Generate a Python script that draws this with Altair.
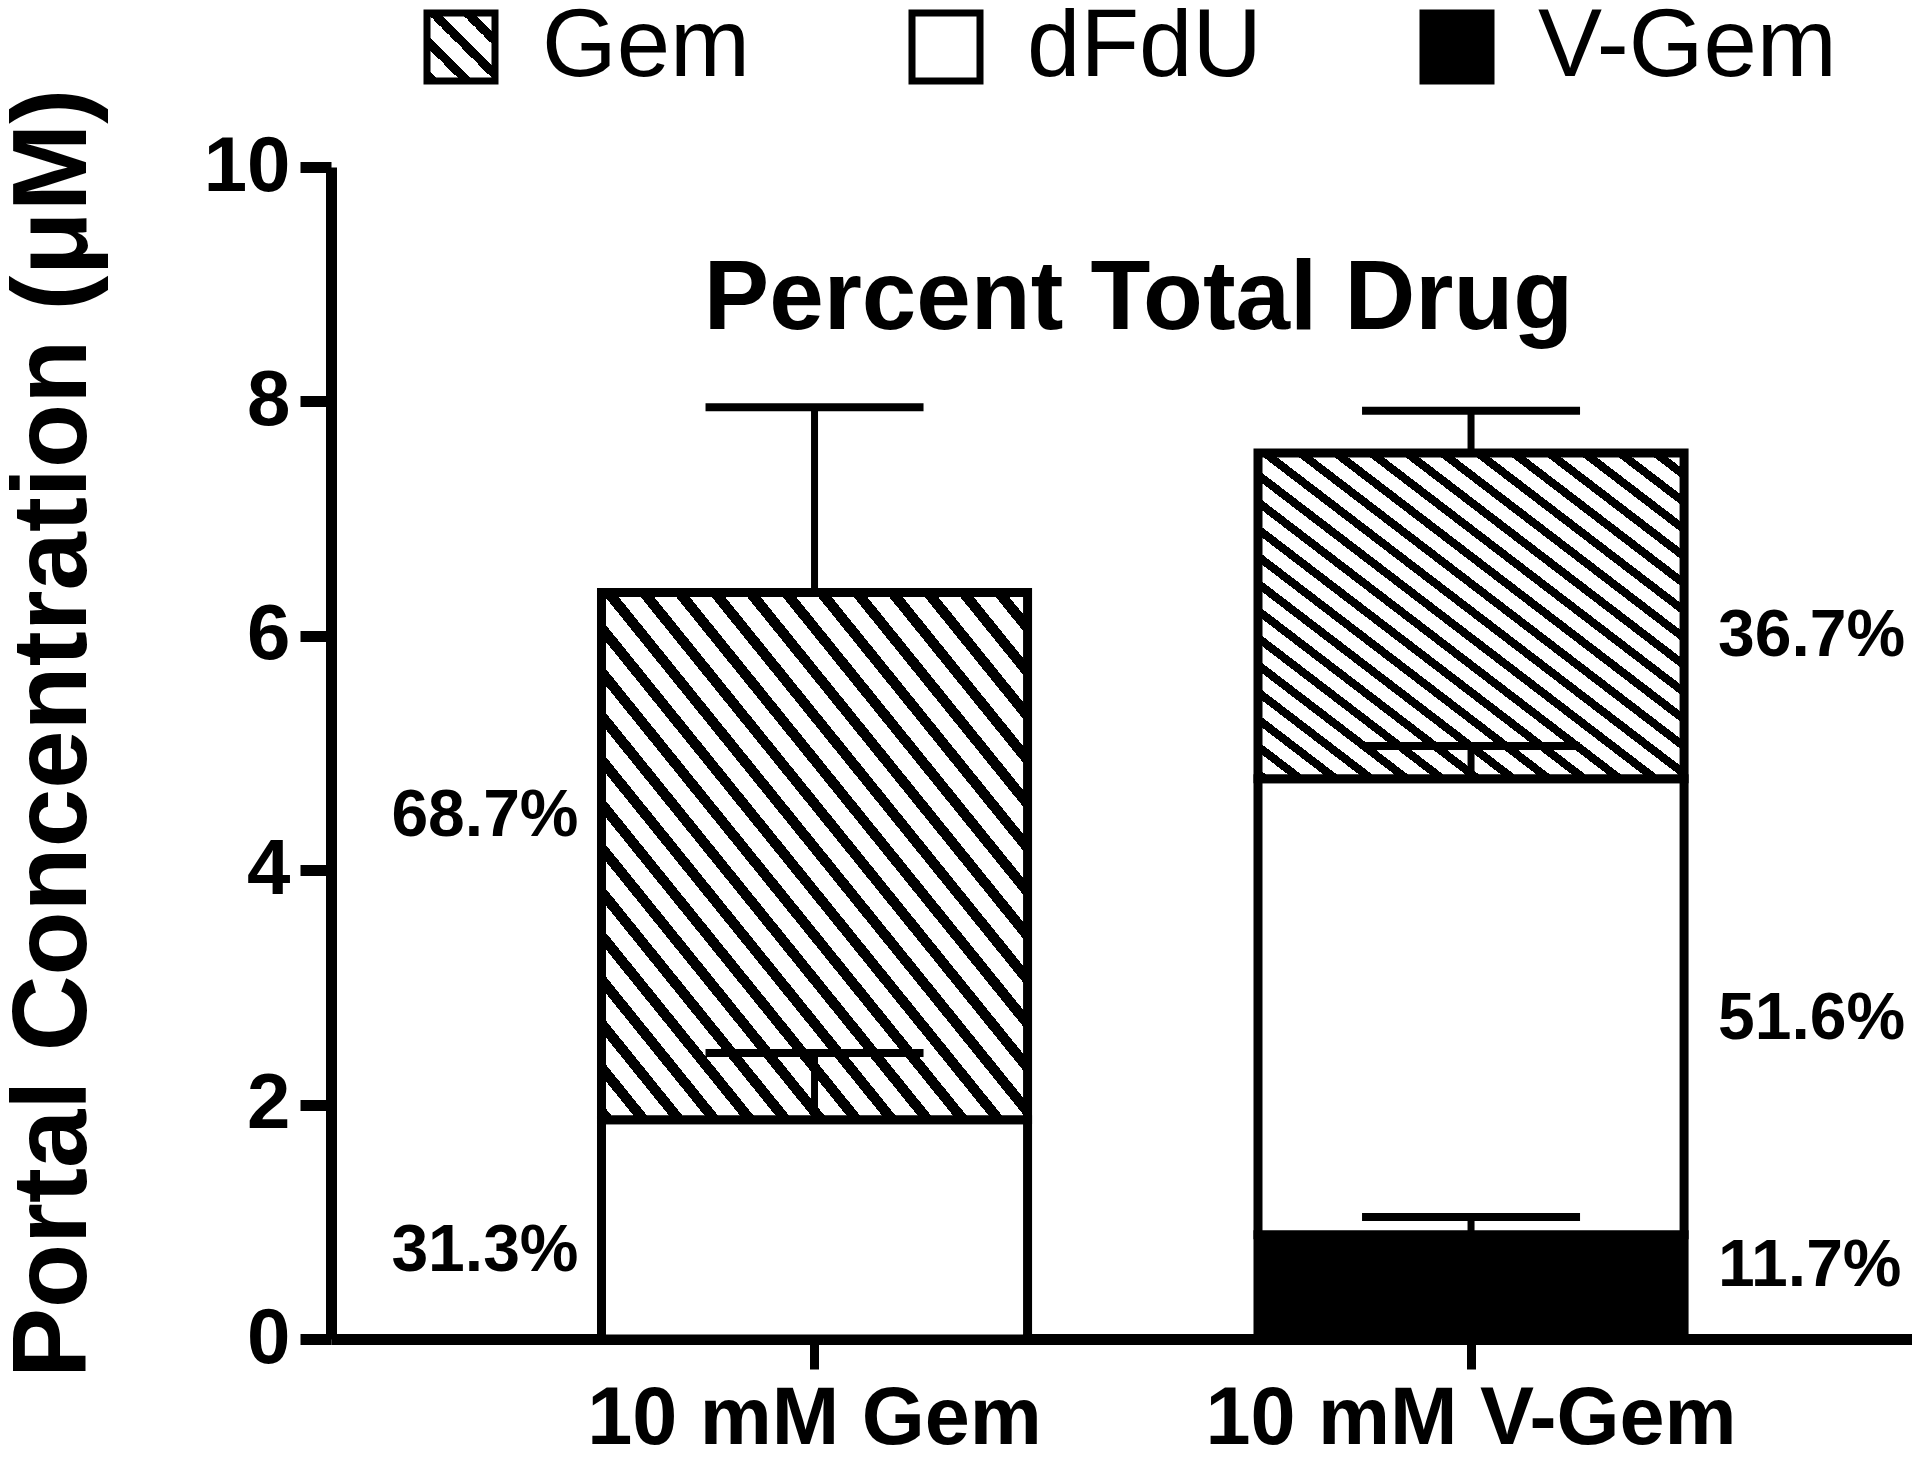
import altair as alt
import pandas as pd

# ---------------- data ----------------
groups = ["10 mM Gem", "10 mM V-Gem"]
segment_order = ["Gem", "dFdU", "V-Gem"]          # legend order

# stacked segments, listed bottom -> top within each group
bar_group = ["10 mM Gem", "10 mM Gem", "10 mM V-Gem", "10 mM V-Gem", "10 mM V-Gem"]
bar_segment = ["dFdU", "Gem", "V-Gem", "dFdU", "Gem"]
bar_value = [1.87, 4.50, 0.89, 3.89, 2.78]     # mean portal concentration (uM)
bar_sd = [0.57, 1.58, 0.15, 0.28, 0.36]        # error (upper bar only)

# percent-of-total-drug labels
pct_group = ["10 mM Gem", "10 mM Gem", "10 mM V-Gem", "10 mM V-Gem", "10 mM V-Gem"]
pct_text = ["68.7%", "31.3%", "36.7%", "51.6%", "11.7%"]
pct_y = [4.46, 0.75, 6.0, 2.73, 0.62]

y_ticks = [0, 2, 4, 6, 8, 10]

# ---------------- table ----------------
rows = []
running = {}
for g, s, v, e in zip(bar_group, bar_segment, bar_value, bar_sd):
    lo = running.get(g, 0.0)
    hi = lo + v
    running[g] = hi
    rows.append({"group": g, "segment": s, "lo": lo, "hi": hi, "cap": hi + e})
df = pd.DataFrame(rows)
pct_df = pd.DataFrame({"group": pct_group, "text": pct_text, "y": pct_y})


# ---------------- hatch fill (striped linear gradient) ----------------
def hatch(n, frac=0.38):
    stops = []
    for k in range(n):
        a, b, c = k / n, (k + frac) / n, (k + 1) / n
        stops += [(a, "black"), (b, "black"), (b, "white"), (c, "white")]
    s = ",".join("{offset:%.5f,color:'%s'}" % (o, col) for o, col in stops)
    return "{gradient:'linear',x1:0,y1:1,x2:1,y2:0,stops:[%s]}" % s


FONT = "Liberation Sans"

x_enc = alt.X(
    "group:N",
    sort=groups,
    scale=alt.Scale(domain=groups, paddingInner=0.351, paddingOuter=0.3796, align=0.5427),
    axis=alt.Axis(
        title=None, labelAngle=0, labelFont=FONT, labelFontSize=81, labelFontWeight="bold",
        labelColor="black", labelPadding=10, labelLimit=0, tickSize=30, tickWidth=9,
        tickColor="black", domainColor="black", domainWidth=11, grid=False,
    ),
)
y_scale = alt.Scale(domain=[0, 10], nice=False, zero=True)
y_axis = alt.Axis(
    title="Portal Concentration (μM)", values=y_ticks, format="d", grid=False,
    labelFont=FONT, labelFontSize=78, labelFontWeight="bold", labelColor="black",
    labelPadding=10, labelFlush=False, labelOverlap=False,
    tickSize=31, tickWidth=11, tickColor="black", domainColor="black", domainWidth=11,
    titleFont=FONT, titleFontSize=105, titleFontWeight="bold", titleColor="black",
    titleAngle=270, titleX=-246, titleY=566, titleAlign="center", titleBaseline="alphabetic",
)

# bar fill scale (legend hidden); listed in another order so it is not merged with the legend scale
bars = alt.Chart(df).mark_bar(stroke="black", strokeWidth=9).encode(
    x=x_enc,
    y=alt.Y("lo:Q", scale=y_scale, axis=y_axis),
    y2="hi:Q",
    fill=alt.Fill(
        "segment:N",
        scale=alt.Scale(domain=["V-Gem", "dFdU", "Gem"],
                        range=["black", "white", alt.ExprRef(expr=hatch(24))]),
        legend=None,
    ),
)

legend_layer = alt.Chart(df).mark_square(filled=True, stroke="black", strokeWidth=7, opacity=1).encode(
    x=alt.X("group:N", sort=groups),
    y=alt.Y("lo:Q"),
    color=alt.Color(
        "segment:N",
        scale=alt.Scale(domain=segment_order, range=[alt.ExprRef(expr=hatch(4)), "white", "black"]),
        legend=alt.Legend(
            title=None, orient="none", legendX=82, legendY=-168, direction="horizontal",
            symbolType="square", symbolSize=4624, symbolStrokeColor="black", symbolStrokeWidth=7,
            symbolOpacity=1,
            labelFont=FONT, labelFontSize=96, labelFontWeight="normal", labelColor="black",
            labelOffset=33, columnPadding=147, labelLimit=0, padding=0,
        ),
    ),
).transform_filter("false")

err_line = alt.Chart(df).mark_rule(color="black", strokeWidth=7, opacity=1).encode(
    x=alt.X("group:N", sort=groups), y="hi:Q", y2="cap:Q"
)
err_cap = alt.Chart(df).mark_tick(color="black", thickness=8, size=218, opacity=1).encode(
    x=alt.X("group:N", sort=groups), y="cap:Q"
)

pct_left = alt.Chart(pct_df).transform_filter(alt.datum.group == groups[0]).mark_text(
    font=FONT, fontSize=66, fontWeight="bold", color="black", align="right",
    baseline="middle", dx=-236,
).encode(x=alt.X("group:N", sort=groups), y="y:Q", text="text:N")
pct_right = alt.Chart(pct_df).transform_filter(alt.datum.group == groups[1]).mark_text(
    font=FONT, fontSize=66, fontWeight="bold", color="black", align="left",
    baseline="middle", dx=247,
).encode(x=alt.X("group:N", sort=groups), y="y:Q", text="text:N")

chart = (
    alt.layer(bars, legend_layer, err_line, err_cap, pct_left, pct_right)
    .properties(
        width=1581,
        height=1172,
        autosize=alt.AutoSizeParams(type="none"),
        padding={"left": 323, "top": 159, "right": 0, "bottom": 114},
        view=alt.ViewBackground(stroke="transparent", strokeWidth=0),
        title=alt.TitleParams(
            text="Percent Total Drug", font=FONT, fontSize=98, fontWeight="bold", color="black",
            anchor="middle", frame="group", orient="top", offset=0, dx=17, dy=428,
            baseline="alphabetic",
        ),
    )
    .configure_view(stroke="transparent", strokeWidth=0, strokeOpacity=0)
    .configure_axis(grid=False)
    .configure(background="white")
)

chart.save("out.html", embed_options={"renderer": "svg", "actions": False})
